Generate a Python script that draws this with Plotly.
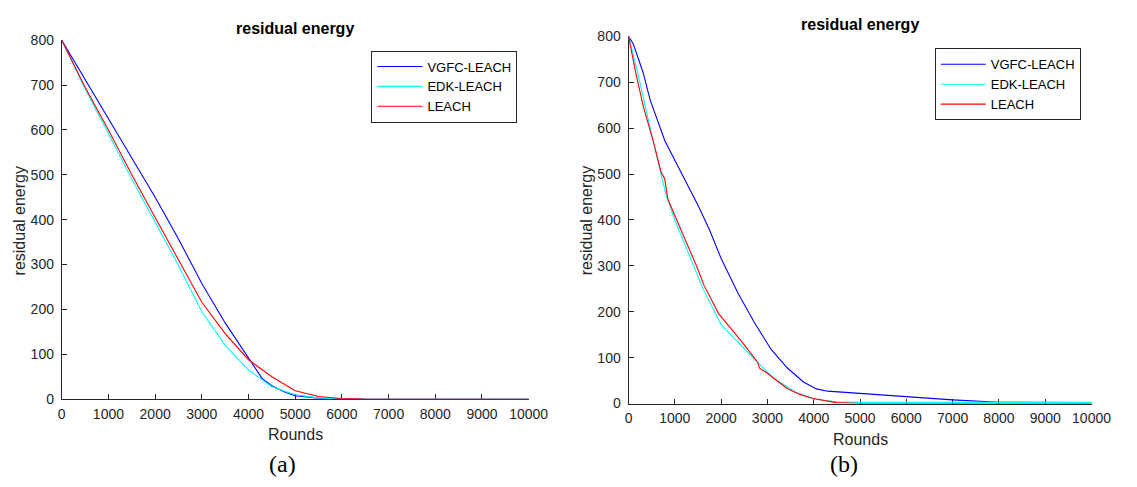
import plotly.graph_objects as go

W, H = 1137, 487

# ---------------- Panel (a) data ----------------
a_vgfc_rounds = [0, 500, 1000, 1500, 2000, 2500, 3000, 3500, 3800, 4000, 4200, 4300, 4500, 4800, 5000, 5500, 6000, 10000]
a_vgfc_energy = [800, 712, 625, 538, 450, 357, 258, 170, 122, 90, 58, 45, 30, 15, 8, 2, 0.3, 0]

a_edk_rounds = [0, 500, 1000, 1500, 2000, 2500, 3000, 3500, 4000, 4500, 5000, 5500, 6000, 10000]
a_edk_energy = [800, 692, 592, 490, 395, 298, 195, 120, 65, 28, 10, 3, 0.5, 0]

a_leach_rounds = [0, 500, 1000, 1500, 2000, 2500, 3000, 3500, 4000, 4500, 5000, 5500, 6000, 6500, 10000]
a_leach_energy = [800, 695, 600, 500, 405, 310, 216, 146, 88, 50, 19, 6, 1.5, 0.3, 0]

# ---------------- Panel (b) data ----------------
b_vgfc_rounds = [0, 100, 200, 324, 465, 606, 782, 1000, 1200, 1500, 1750, 2000, 2368, 2721, 3072, 3425, 3778, 4059, 4300,
                 5116, 6000, 7000, 8000, 9000, 10000]
b_vgfc_energy = [800, 784, 755, 718, 662, 622, 573, 530, 490, 432, 378, 316, 240, 176, 119, 78, 47, 32, 27,
                 21, 14, 8, 3, 2, 2]

b_edk_rounds = [0, 100, 200, 400, 600, 800, 1000, 1300, 1600, 2000, 2400, 2800, 3150, 3600, 4000, 4500, 5000, 10000]
b_edk_energy = [800, 760, 720, 630, 545, 458, 400, 325, 252, 172, 130, 88, 54, 25, 10, 4, 2.5, 2.5]

b_leach_rounds = [0, 150, 324, 535, 700, 780, 850, 1000, 1311, 1500, 1628, 1945, 2200, 2368, 2500, 2790, 2830, 3000,
                  3425, 3700, 3989, 4482, 5000, 10000]
b_leach_energy = [800, 723, 645, 571, 505, 490, 445, 410, 335, 292, 258, 196, 165, 145, 128, 90, 77, 66,
                  33, 20, 11, 2, 0.2, 0]

x_ticks = [0, 1000, 2000, 3000, 4000, 5000, 6000, 7000, 8000, 9000, 10000]
y_ticks = [0, 100, 200, 300, 400, 500, 600, 700, 800]

series_names = ["VGFC-LEACH", "EDK-LEACH", "LEACH"]
series_colors = ["#0000FF", "#00FFFF", "#FF0000"]

FONT = "Liberation Sans, Arial, Helvetica, sans-serif"
TXT = "#262626"

fig = go.Figure()

panel_a = [(a_vgfc_rounds, a_vgfc_energy), (a_edk_rounds, a_edk_energy), (a_leach_rounds, a_leach_energy)]
panel_b = [(b_vgfc_rounds, b_vgfc_energy), (b_edk_rounds, b_edk_energy), (b_leach_rounds, b_leach_energy)]

for (xs, ys), name, col in zip(panel_a, series_names, series_colors):
    fig.add_trace(go.Scatter(x=xs, y=ys, mode="lines", name=name, line=dict(color=col, width=1.1),
                             xaxis="x", yaxis="y", legend="legend"))
for (xs, ys), name, col in zip(panel_b, series_names, series_colors):
    fig.add_trace(go.Scatter(x=xs, y=ys, mode="lines", name=name, line=dict(color=col, width=1.1),
                             xaxis="x2", yaxis="y2", legend="legend2"))


def px_x(p):
    return p / W


def px_y(p):
    return 1 - p / H


axis_common = dict(showline=True, linecolor=TXT, linewidth=1, ticks="inside", ticklen=5, tickcolor=TXT,
                   showgrid=False, zeroline=False, mirror=False, layer="below traces",
                   tickfont=dict(family=FONT, size=14, color=TXT))

xa = dict(axis_common, range=[0, 10000], tickvals=x_ticks, ticktext=[str(v) for v in x_ticks],
          ticklabelstandoff=2)
ya = dict(axis_common, range=[0, 800], tickvals=y_ticks, ticktext=[str(v) for v in y_ticks],
          ticklabelstandoff=4)

legend_common = dict(xanchor="right", yanchor="top", bordercolor=TXT, borderwidth=1, bgcolor="white",
                     font=dict(family=FONT, size=13, color="#000000"), itemwidth=45, tracegroupgap=0)

fig.update_layout(
    width=W, height=H,
    margin=dict(l=0, r=0, t=0, b=0),
    paper_bgcolor="white", plot_bgcolor="white",
    xaxis=dict(xa, domain=[px_x(59), px_x(536)], anchor="y"),
    yaxis=dict(ya, domain=[px_y(404.5), px_y(33.3)], anchor="x"),
    xaxis2=dict(xa, domain=[px_x(638), px_x(1111)], anchor="y2"),
    yaxis2=dict(ya, domain=[px_y(409), px_y(29.3)], anchor="x2"),
    legend=dict(legend_common, x=px_x(524.5), y=px_y(44)),
    legend2=dict(legend_common, x=px_x(1100), y=px_y(41.7)),
    showlegend=True,
)

annotations = [
    dict(text="<b>residual energy</b>", x=px_x(297.5), y=px_y(21), font=dict(family=FONT, size=16, color="#000000")),
    dict(text="<b>residual energy</b>", x=px_x(874.5), y=px_y(17), font=dict(family=FONT, size=16, color="#000000")),
    dict(text="Rounds", x=px_x(297.5), y=px_y(441.5), font=dict(family=FONT, size=16, color=TXT)),
    dict(text="Rounds", x=px_x(874.5), y=px_y(446.5), font=dict(family=FONT, size=16, color=TXT)),
    dict(text="residual energy", x=px_x(16), y=px_y(220), textangle=-90, font=dict(family=FONT, size=16, color=TXT)),
    dict(text="residual energy", x=px_x(595), y=px_y(220), textangle=-90, font=dict(family=FONT, size=16, color=TXT)),
    dict(text="(a)", x=px_x(284), y=px_y(472), font=dict(family="Liberation Serif, Times New Roman, serif", size=24, color="#000000")),
    dict(text="(b)", x=px_x(858), y=px_y(472), font=dict(family="Liberation Serif, Times New Roman, serif", size=24, color="#000000")),
]
for a in annotations:
    a.update(xref="paper", yref="paper", showarrow=False, xanchor="center", yanchor="middle")
fig.update_layout(annotations=annotations)

fig.write_html("out.html", config={"displayModeBar": False},
               post_script="document.body.style.margin='0';document.body.style.overflow='hidden';")
